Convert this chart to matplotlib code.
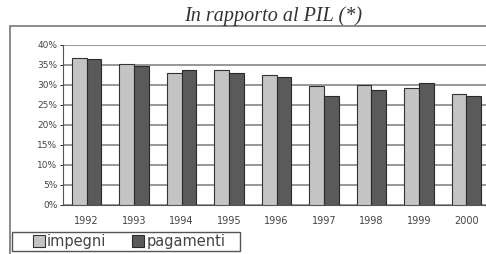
"""
In rapporto al PIL (*) - impegni e pagamenti, 1992-2000
"""

import numpy as np
import matplotlib.pyplot as plt
from matplotlib.patches import Rectangle

years = ['1992', '1993', '1994', '1995', '1996', '1997', '1998', '1999', '2000']
impegni = [36.7, 35.2, 33.1, 33.8, 32.5, 29.8, 30.0, 29.2, 27.8]
pagamenti = [36.4, 34.8, 33.8, 32.9, 31.9, 27.3, 28.8, 30.4, 27.3]
y_ticks = [0, 5, 10, 15, 20, 25, 30, 35, 40]

fig = plt.figure(figsize=(4.86, 2.54), dpi=100)
W, H = 486, 254

# outer frame of the chart (runs off the right and bottom edge)
frame = Rectangle((10 / W, -0.05), 1.0, (254 - 26) / H + 0.05,
                  transform=fig.transFigure, fill=False,
                  edgecolor='#777777', linewidth=1.2)
fig.patches.append(frame)

fig.text(273 / W, 1 - 16 / H, 'In rapporto al PIL (*)', ha='center', va='center',
         fontsize=14.5, style='italic', family='Liberation Serif', color='#333333')

ax = fig.add_axes([63 / W, 49 / H, 427 / W, 160 / H])
x = np.arange(len(years))
w = 0.31
b1 = ax.bar(x - w / 2, impegni, w, color='#c4c4c4', edgecolor='#333333',
            linewidth=0.8, label='impegni', zorder=3)
b2 = ax.bar(x + w / 2, pagamenti, w, color='#5a5a5a', edgecolor='#2a2a2a',
            linewidth=0.8, label='pagamenti', zorder=3)

ax.set_xlim(-0.5, len(years) - 0.5)
ax.set_ylim(0, 40)
ax.set_yticks(y_ticks)
ax.set_yticklabels([f'{t}%' for t in y_ticks], fontsize=6.5, color='#444444')
ax.set_xticks(x)
ax.set_xticklabels(years, fontsize=7, color='#444444')
ax.tick_params(axis='y', length=2, width=0.6, pad=2)
ax.tick_params(axis='x', length=0, pad=8)
ax.yaxis.grid(True, color='#7a7a7a', linewidth=1.1, zorder=0)
for side in ['top', 'right']:
    ax.spines[side].set_visible(False)
ax.spines['left'].set_color('#555555')
ax.spines['bottom'].set_color('#555555')

# legend box drawn separately, entries placed inside it
leg_box = Rectangle((12 / W, 3 / H), 228 / W, 19 / H, transform=fig.transFigure,
                    fill=False, edgecolor='#555555', linewidth=1.0)
fig.patches.append(leg_box)
leg = fig.legend(handles=[b1, b2], labels=['impegni', 'pagamenti'],
                 loc='center left', bbox_to_anchor=(33 / W, 12.5 / H),
                 ncol=2, fontsize=10.5, frameon=False,
                 handlelength=0.8, handleheight=0.8, handletextpad=0.15,
                 columnspacing=1.8, borderpad=0, borderaxespad=0)
for t in leg.get_texts():
    t.set_color('#444444')

plt.savefig('out.png', dpi=100)
